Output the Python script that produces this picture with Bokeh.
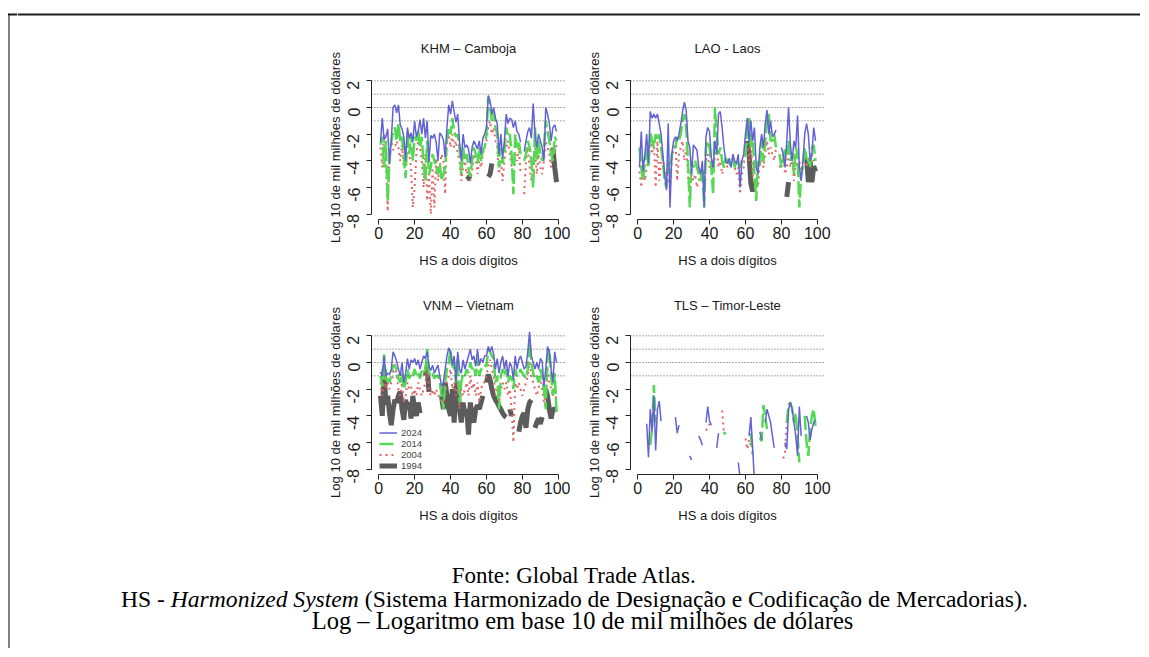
import math
import numpy as np
from bokeh.plotting import figure
from bokeh.layouts import row, column
from bokeh.models import (Range1d, FixedTicker, Label, Span, Legend, LegendItem, Spacer, Title)
from bokeh.embed import file_html
from bokeh.resources import INLINE

N = None
hs = list(range(1, 100))
x_ticks = [0, 20, 40, 60, 80, 100]
y_ticks = [-8, -6, -4, -2, 0, 2]
ref_levels = [2, 1, 0, -1]
years = ["2024", "2014", "2004", "1994"]

# ---------------- KHM - Camboja ----------------
khm_2024 = [-2.6, -0.8, -2.4, -2.2, -1.6, -4.2, -2.5, 0.0, 0.2, -0.4,
            0.2, -1.3, -1.6, -2.2, -4.0, -1.5, -2.3, -1.9, -2.6, -1.0,
            -2.2, -1.8, -0.9, -2.0, -0.8, -2.3, -1.0, -4.1, -2.1, -2.3,
            -2.0, -2.6, -4.0, -1.9, -2.1, -2.4, -3.7, -1.5, 0.2, -0.5,
            0.5, -0.3, -1.1, -0.5, -2.6, -4.0, -2.0, -3.0, -2.8, -3.1,
            -4.2, -3.0, -2.5, -2.8, -3.1, -2.5, -3.5, -2.3, -2.0, -1.5,
            0.9, 0.5, -0.5, 0.0, -0.8, -1.2, -3.5, -2.0, -3.8, -2.5,
            -0.5, -1.2, -0.8, -0.9, -1.5, -1.0, -1.8, -2.0, -2.6, N,
            -3.3, -2.5, -1.8, -1.5, -2.3, 0.3, -2.0, -3.0, -2.0, -2.5,
            -3.0, -4.0, 0.0, -0.5, -1.2, -2.5, -1.5, -1.3, -1.8]
khm_2014 = [-2.8, -2.2, -4.5, -2.5, -7.0, -4.0, -2.6, -1.8, -1.5, -2.5,
            -1.2, -2.5, -2.2, -3.8, -5.3, -1.8, -3.5, -2.0, -4.0, -2.2,
            -2.5, -1.7, -3.0, -2.2, -4.3, -5.5, -2.5, -5.0, -4.5, -3.5,
            -4.0, -4.5, -5.0, -4.2, -5.5, -5.0, -4.5, -2.5, -1.5, -2.0,
            -0.8, -1.8, -2.2, -2.0, -3.0, -5.0, -3.0, -4.0, -3.5, -4.5,
            -5.2, -4.0, -3.0, -3.5, -4.2, -3.0, -4.0, -3.2, -3.0, -2.0,
            0.8, 0.0, -1.0, -0.3, -1.5, -2.0, -4.5, -3.0, -4.2, -3.3,
            -1.5, -2.2, -2.0, -3.5, -6.5, -2.0, -3.0, -2.5, -3.5, N,
            -4.0, -3.5, -2.5, -3.0, -4.0, -6.0, -1.5, -4.0, -2.5, -3.5,
            -4.0, -3.0, -1.0, -1.8, -2.5, -3.5, -4.0, -2.2, -2.5]
khm_2004 = [-3.0, -4.5, -2.0, -4.0, -7.8, -3.5, -2.5, -3.2, -3.0, -2.5,
            -3.0, -4.0, -2.8, -4.5, -3.0, -2.5, -3.5, -4.5, -7.5, -6.0,
            -3.5, -2.5, -3.0, -4.0, -6.0, -3.5, -7.0, -5.0, -8.0, -4.5,
            -7.5, -3.8, -5.5, -4.5, -3.5, -4.0, -6.5, -2.5, -2.0, -3.0,
            -2.0, -3.0, -2.5, -3.5, -4.0, -5.5, -4.5, -4.0, -5.0, -4.5,
            -5.5, -4.8, -3.5, -4.0, -5.0, -4.0, -4.5, -3.5, -3.0, -2.5,
            -1.5, -1.0, -2.0, -1.5, -2.5, -3.0, -5.0, -4.0, -5.5, -4.0,
            -3.0, -2.5, -3.5, -4.5, -5.0, -3.5, -4.0, -3.0, -5.0, N,
            -6.5, -4.0, -3.0, -4.5, -5.5, -4.0, -3.0, -5.0, -3.5, -4.5,
            -5.0, -4.0, -2.5, -3.0, -3.5, -4.5, -3.0, -3.5, -2.8]
khm_1994 = {49: -5.4, 50: -5.3, 51: -5.1,
            61: -5.2, 62: -5.0, 63: -4.2,
            97: -3.0, 98: -4.5, 99: -5.6}

# ---------------- LAO - Laos ----------------
lao_2024 = [-4.5, -1.8, -4.8, -3.5, -2.0, -4.2, -0.3, -0.8, -0.5, -0.8,
            -0.5, -1.2, -2.0, -3.5, -5.0, -6.2, -1.2, -7.5, -3.5, -2.5,
            -2.2, -2.5, -2.0, -1.2, -0.3, 0.4, -0.2, -2.5, -3.0, -5.0,
            -2.8, -3.0, -3.2, -4.5, -5.0, -4.0, -7.5, -2.2, -1.5, -1.8,
            -3.8, -4.5, -2.5, -3.5, -0.5, -0.3, -1.5, -3.0, -4.0, -4.2,
            -3.8, -4.5, -3.5, -4.0, -4.2, -3.5, -6.0, -4.0, -3.5, -2.0,
            -0.8, -2.5, -1.0, -2.5, -1.5, -4.5, -5.0, -3.0, -2.0, -3.0,
            -1.2, -0.2, -2.0, -1.0, -2.2, -2.0, -1.7, N, N, -3.0,
            -3.5, -4.5, -2.5, 0.0, -2.8, -4.0, -2.5, -3.0, -0.6, -4.5,
            -5.5, -4.0, -2.0, -1.2, -2.0, -4.0, -3.5, -1.5, -2.5]
lao_2014 = [-3.0, -4.5, -5.5, -4.0, -3.0, -4.5, -1.8, -2.5, -3.0, -2.0,
            -2.5, -2.0, -3.0, -4.0, -5.5, -6.0, -4.0, -5.0, -3.5, -3.0,
            -3.0, -2.2, -2.5, -2.0, -1.0, -0.5, -1.5, -4.0, -7.5, -4.0,
            -4.5, -4.0, -4.5, -5.0, -5.5, -4.5, -7.5, -3.0, -2.5, -3.0,
            -4.5, -6.5, 0.0, -2.0, -3.5, -3.0, -4.0, -4.5, -3.8, -4.0,
            -4.2, -4.0, -3.8, -4.5, -4.0, -4.2, -4.5, -4.0, -3.8, -3.5,
            -1.5, -0.8, -3.0, -2.0, -5.0, -7.0, -4.0, -4.5, -2.5, -4.0,
            -2.5, -1.0, -0.5, -2.5, -2.5, -2.0, -3.0, N, -3.5, -4.5,
            -4.0, -3.0, -3.5, -2.5, -4.0, -3.5, -5.0, -3.0, -3.5, -7.5,
            -5.0, -4.5, -3.0, -3.8, -4.0, -4.5, -3.0, -2.8, -4.0]
lao_2004 = [-4.8, -6.0, -4.0, -5.5, -4.5, -4.0, -2.0, -3.5, -2.5, -6.0,
            -2.5, -5.5, -4.0, -3.5, -5.0, -4.8, -5.5, -6.0, -4.0, -3.0,
            -2.5, -5.5, -3.5, -3.0, -2.5, -4.0, -3.0, -5.0, -6.5, -5.0,
            -5.5, -5.0, -6.0, -5.5, -5.0, -4.5, -5.5, -4.0, -3.5, -4.5,
            -4.0, -5.0, -3.5, -3.0, -4.5, -4.0, -5.0, -4.5, -4.0, -4.5,
            -4.5, -4.0, -3.8, -4.5, -5.0, -4.5, -6.5, -5.0, -4.5, -3.0,
            -2.5, -4.0, -2.5, -5.0, -6.0, -5.5, -6.0, -4.0, -3.5, -4.5,
            -3.5, -2.5, -3.5, -3.0, -3.5, -4.0, -3.0, N, -4.5, -4.0,
            -3.5, -5.0, -4.5, -3.0, -4.5, -3.5, -5.5, -4.0, -4.5, -4.0,
            -5.0, -4.0, -3.5, -4.5, -3.8, -4.0, -3.5, -4.0, -3.8]
lao_1994 = {61: -2.5, 62: -3.5, 63: -5.7, 64: -6.3, 65: -5.5,
            83: -6.7, 84: -5.6,
            94: -3.8, 95: -5.6, 96: -4.0, 97: -5.6, 98: -4.4, 99: -4.8}

# ---------------- VNM - Vietnam ----------------
vnm_2024 = [-0.7, -1.0, 0.5, -1.0, -0.8, -0.9, -0.5, 0.8, 0.5, 0.1,
            -0.5, -1.0, 0.0, -1.5, -0.8, 0.3, -0.5, 0.2, 0.0, 0.3,
            -0.2, 0.2, -0.5, 0.0, 0.5, 0.3, 0.8, -0.3, -0.6, -0.2,
            -0.8, -0.5, -0.2, -1.0, -1.8, -1.5, -0.5, 0.5, 1.1, 0.8,
            -0.2, 0.5, -1.5, 0.8, -0.5, -0.8, 0.2, -0.5, 0.0, 0.5,
            1.0, 0.2, 0.5, -0.3, 1.0, -0.2, 0.3, 0.0, 0.5, 0.5,
            1.2, 0.8, 1.2, 0.6, -0.5, 0.3, -0.8, 0.0, 0.5, -0.5,
            0.2, -1.0, 0.0, -0.3, -1.3, 0.5, -0.5, 0.2, 0.5, 0.0,
            -0.5, -0.3, 0.8, 2.3, 0.5, 0.0, -0.5, 0.0, -0.5, 0.3,
            0.1, -1.8, -0.5, 1.2, 0.8, -0.5, -1.5, 0.8, 0.0]
vnm_2014 = [-1.0, -1.8, 0.6, -1.5, -1.2, -1.5, -1.0, -0.2, -0.3, -0.5,
            -1.2, -1.5, -0.8, -2.0, -1.5, -0.5, -1.2, -0.8, -1.0, -0.5,
            -1.0, -0.8, -1.2, -0.6, -0.8, -0.5, 1.0, -0.8, -1.0, -0.8,
            -1.2, -1.0, -1.0, -1.5, -2.5, -3.5, -1.5, -0.5, 0.0, 1.0,
            -0.5, 0.0, -1.5, 0.3, -3.0, -1.5, -0.8, -1.0, -0.5, -0.8,
            0.0, -0.5, -0.3, -1.0, 0.3, -1.0, -0.5, -0.5, -0.2, -0.3,
            1.0, 0.8, 0.5, 0.3, -1.5, -1.0, -3.5, -1.0, -0.5, -1.0,
            -0.5, -1.5, -1.0, -1.2, -2.0, -0.5, -1.0, -1.0, -0.5, -0.8,
            -1.0, -1.2, -0.5, 1.5, 0.0, -0.8, -1.2, -1.0, -1.5, -0.5,
            -1.0, -2.0, -3.5, 0.5, 1.0, -1.0, -2.5, -0.8, -3.7]
vnm_2004 = [-1.5, -2.5, -1.0, -2.0, -1.5, -2.0, -1.5, -1.0, 0.0, -1.0,
            -2.0, -2.5, -1.5, -3.0, -2.5, -1.5, -2.0, -1.8, -2.5, -2.0,
            -2.5, -1.5, -2.0, -2.5, -2.0, -1.5, -0.5, -2.0, -2.5, -2.0,
            -2.5, -2.0, -2.5, -2.5, -3.0, -3.0, -2.5, -1.5, -1.0, -0.5,
            -2.0, -1.5, -2.5, -1.5, -3.5, -2.0, -2.5, -2.0, -1.5, -2.5,
            -1.0, -2.0, -1.5, -2.5, -1.5, -3.0, -2.0, -1.5, -1.5, -1.0,
            -0.3, 0.2, -0.5, -1.0, -2.5, -2.0, -3.0, -2.0, -1.5, -2.0,
            -1.5, -2.5, -2.0, -3.5, -6.0, -1.5, -2.0, -1.5, -2.0, -2.5,
            -2.0, -1.5, -1.0, 0.0, -1.0, -1.5, -2.0, -2.5, -2.0, -1.0,
            -2.0, -3.0, -2.5, -0.5, -1.5, -2.0, -2.5, -2.0, -3.0]
vnm_1994 = [-2.5, -4.0, -0.5, -3.2, -2.5, -3.8, -4.7, -3.5, -2.8, -3.0,
            -2.5, -2.2, -3.5, -4.3, -2.8, -3.5, -3.0, -4.2, -2.5, -3.5,
            -4.0, -3.0, -3.8, N, N, -1.0, -0.3, -2.2, N, N,
            N, N, N, N, -2.5, -3.5, -1.5, -2.5, -3.5, -4.0,
            -2.0, -4.5, -2.0, -1.5, -3.5, -4.5, -3.0, -4.0, -3.5, -5.4,
            -3.0, -4.0, -4.5, -3.5, -3.2, -3.5, -3.0, -2.5, N, -1.5,
            -0.9, -1.3, -2.0, -2.5, -2.8, -3.0, -3.3, -3.5, -3.8, -4.0,
            -4.1, N, -3.5, -4.0, N, N, N, -5.2, -4.5, -4.0,
            -3.8, -4.9, -3.5, -3.0, -2.8, N, -4.9, -4.5, -4.2, -4.6,
            -4.1, N, -2.0, -2.5, -3.5, -4.2, -3.5, -3.5, -3.5]

# ---------------- TLS - Timor-Leste ----------------
tls_2024 = {5: -4.6, 6: -7.1, 7: -3.5, 8: -5.2, 9: -2.5, 10: -6.6, 11: -3.5, 12: -2.9, 13: -4.4,
            21: -4.1, 22: -5.3, 23: -4.7,
            29: -7.0, 30: -7.3,
            34: -5.5, 35: -5.8, 36: -6.2,
            38: -4.5, 39: -3.3, 40: -4.4, 41: -4.7,
            44: -6.4, 45: -5.3,
            56: -7.5, 57: -8.6,
            62: -5.5, 63: -4.1, 64: -6.5, 65: -8.8,
            68: -5.2, 69: -5.8,
            71: -4.5, 72: -3.5, 73: -4.0, 74: -4.5, 75: -5.5, 76: -6.4,
            82: -6.0, 83: -6.5, 84: -3.5, 85: -3.0, 86: -3.5, 87: -4.5, 88: -5.5, 89: -7.0,
            90: -3.3, 91: -5.5,
            94: -4.0, 95: -4.5, 96: -5.8, 97: -5.0, 98: -4.5, 99: -4.3}
tls_2014 = {7: -6.2, 8: -5.0, 9: -1.7, 10: -4.5,
            48: -5.2, 49: -5.4,
            63: -5.3, 64: -6.9,
            68: -5.6, 69: -5.9, 70: -3.2, 71: -4.0, 72: -5.0,
            83: -4.5, 84: -3.2, 85: -3.0, 86: -3.5, 87: -4.5, 88: -3.8, 89: -5.5, 90: -7.5,
            93: -4.0, 94: -6.0, 95: -7.0, 96: -5.0, 97: -4.0, 98: -3.5, 99: -4.8}
tls_2004 = {38: -5.1, 39: -4.9, 40: -4.6,
            47: -3.6, 48: -5.3,
            60: -5.7, 61: -6.5, 62: -5.8, 63: -6.3,
            81: -7.2, 82: -6.8, 83: -4.4, 84: -3.1}
tls_1994 = {}

panels = [
    ("KHM \u2013 Camboja", [khm_2024, khm_2014, khm_2004, khm_1994]),
    ("LAO - Laos", [lao_2024, lao_2014, lao_2004, lao_1994]),
    ("VNM \u2013 Vietnam", [vnm_2024, vnm_2014, vnm_2004, vnm_1994]),
    ("TLS \u2013 Timor-Leste", [tls_2024, tls_2014, tls_2004, tls_1994]),
]

styles = {
    "2024": dict(line_color="#6262d6", line_width=1.5, line_dash="solid"),
    "2014": dict(line_color="#55d955", line_width=2.5, line_dash="14 4"),
    "2004": dict(line_color="#e06666", line_width=2.0, line_dash="2 4"),
    "1994": dict(line_color="#5c5c5c", line_width=5.0, line_dash="solid"),
}

SANS = "Liberation Sans"
SERIF = "Liberation Serif"
FRAME_W, FRAME_H, LB = 194, 144, 60


def to_arr(s):
    if isinstance(s, dict):
        return np.array([s.get(h, np.nan) for h in hs], dtype=float)
    return np.array([np.nan if v is None else v for v in s], dtype=float)


def make_panel(title, series, top, bottom, right, title_standoff, legend=False):
    p = figure(width=LB + FRAME_W + right, height=top + FRAME_H + bottom,
               x_range=Range1d(-4, 104), y_range=Range1d(-8.4, 2.4),
               output_backend="svg", toolbar_location=None, title=None,
               min_border_left=LB, min_border_right=right,
               min_border_top=top, min_border_bottom=bottom)
    p.title = Title(text=title, align="center", text_font=SANS, text_font_size="13px",
                    text_font_style="normal", text_color="#1a1a1a", standoff=title_standoff)
    p.outline_line_color = None
    p.grid.visible = False
    p.background_fill_color = "white"
    p.border_fill_color = "white"
    for lv in ref_levels:
        p.add_layout(Span(location=lv, dimension="width", line_color="#5a5a5a",
                          line_width=1, line_dash="1 2"))
    rends = {}
    for yr in ["1994", "2004", "2014", "2024"]:
        y = to_arr(series[years.index(yr)])
        rends[yr] = p.line(hs, y, **styles[yr])
    for ax in (p.xaxis[0], p.yaxis[0]):
        ax.axis_line_color = "#222222"
        ax.major_tick_line_color = "#222222"
        ax.major_tick_out = 5
        ax.major_tick_in = 0
        ax.minor_tick_out = 0
        ax.minor_tick_in = 0
        ax.major_label_text_font = SANS
        ax.major_label_text_font_size = "16px"
        ax.major_label_text_color = "#1a1a1a"
        ax.axis_label_text_font = SANS
        ax.axis_label_text_font_size = "13px"
        ax.axis_label_text_font_style = "normal"
        ax.axis_label_text_color = "#1a1a1a"
    p.xaxis.ticker = FixedTicker(ticks=x_ticks)
    p.xaxis.bounds = (0, 100)
    p.xaxis.major_label_standoff = 2
    p.xaxis.axis_label = "HS a dois d\u00edgitos"
    p.xaxis.axis_label_standoff = 11
    p.yaxis.ticker = FixedTicker(ticks=y_ticks)
    p.yaxis.bounds = (-8, 2)
    p.yaxis.major_label_orientation = math.pi / 2
    p.yaxis.major_label_standoff = 13
    p.yaxis.major_label_overrides = {t: str(t) for t in y_ticks}
    p.yaxis.axis_label = "Log 10 de mil milh\u00f5es de d\u00f3lares"
    p.yaxis.axis_label_standoff = -4
    if legend:
        items = [LegendItem(label=yr, renderers=[rends[yr]]) for yr in years]
        lg = Legend(items=items, location=(8, 3), padding=0, margin=0, spacing=0,
                    glyph_width=18, glyph_height=9, label_height=9, label_standoff=4,
                    label_text_font=SANS, label_text_font_size="9.5px",
                    border_line_color=None, background_fill_alpha=0)
        p.add_layout(lg)
    return p


def strip(w, h):
    s = figure(width=w, height=h, x_range=Range1d(0, w), y_range=Range1d(h, 0),
               output_backend="svg", toolbar_location=None, title=None,
               x_axis_type=None, y_axis_type=None, min_border=0)
    s.outline_line_color = None
    s.grid.visible = False
    s.background_fill_color = "white"
    s.border_fill_color = "white"
    return s


LEFT_W, TOP_H = 17, 17
MAIN_W = 1123
ROW1_TOP, ROW1_BOTTOM = 58, 58
ROW2_TOP, ROW2_BOTTOM = 53, 60
ROW1_H = ROW1_TOP + FRAME_H + ROW1_BOTTOM
ROW2_H = ROW2_TOP + FRAME_H + ROW2_BOTTOM
CAP_H = 114
TOTAL_H = TOP_H + ROW1_H + ROW2_H + CAP_H

left = strip(LEFT_W, TOTAL_H)
left.segment(x0=[8.5], y0=[13], x1=[8.5], y1=[TOTAL_H], line_color="#808080", line_width=2)
left.segment(x0=[7.5], y0=[14], x1=[LEFT_W], y1=[14], line_color="#1e1e1e", line_width=2)
top = strip(MAIN_W, TOP_H)
top.segment(x0=[0], y0=[14], x1=[MAIN_W], y1=[14], line_color="#1e1e1e", line_width=2)

p1 = make_panel(panels[0][0], panels[0][1], top=ROW1_TOP, bottom=ROW1_BOTTOM, right=5, title_standoff=40)
p2 = make_panel(panels[1][0], panels[1][1], top=ROW1_TOP, bottom=ROW1_BOTTOM, right=10, title_standoff=40)
p3 = make_panel(panels[2][0], panels[2][1], top=ROW2_TOP, bottom=ROW2_BOTTOM, right=5, title_standoff=35, legend=True)
p4 = make_panel(panels[3][0], panels[3][1], top=ROW2_TOP, bottom=ROW2_BOTTOM, right=10, title_standoff=35)

row1 = row(Spacer(width=294, height=ROW1_H), p1, p2)
row2 = row(Spacer(width=294, height=ROW2_H), p3, p4)

# caption
cap = strip(MAIN_W, CAP_H)
cx = 557
line1 = "Fonte: Global Trade Atlas."
line2a, line2b, line2c = "HS -", "Harmonized System", "(Sistema Harmonizado de Designa\u00e7\u00e3o e Codifica\u00e7\u00e3o de Mercadorias)."
line3 = "Log \u2013 Logaritmo em base 10 de mil milh\u00f5es de d\u00f3lares"
S1, S2, S3 = 23, 23.6, 24.5
em_a, em_b, em_c, em_sp = 1.861, 7.971, 28.103, 0.25
total = (em_a + em_sp + em_b + em_sp + em_c) * S2
x_b = cx - total / 2 + (em_a + em_sp) * S2
x_c = x_b + (em_b + em_sp) * S2


def cap_label(x, y_top, text, align, size, style="normal"):
    cap.add_layout(Label(x=x, y=CAP_H - y_top, x_units="screen", y_units="screen", text=text,
                         text_align=align, text_baseline="middle", text_font=SERIF,
                         text_font_size=f"{size}px", text_font_style=style,
                         text_color="black"))


cap_label(cx, 41, line1, "center", S1)
cap_label(x_b - em_sp * S2, 64, line2a, "right", S2)
cap_label(x_b, 64, line2b, "left", S2, "italic")
cap_label(x_c, 64, line2c, "left", S2)
cap_label(cx + 8, 86, line3, "center", S3)

main = column(top, row1, row2, cap)
root = row(left, main)
open("out.html", "w").write(file_html(root, INLINE))
